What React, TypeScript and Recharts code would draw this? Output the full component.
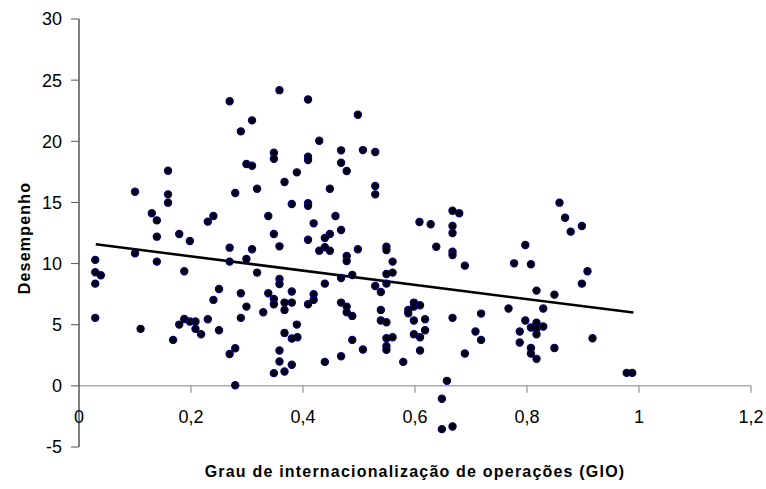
import React from 'react';
import { ScatterChart, Scatter, XAxis, YAxis, ReferenceLine } from 'recharts';

// GIO (x) values and Desempenho (y) values, paired by index
const gioValues = [
  0.159, 0.100, 0.159, 0.159, 0.130, 0.139, 0.240, 0.230, 0.139, 0.179, 0.198, 0.100, 0.029, 0.139, 0.029, 0.039, 0.029, 0.188, 0.250, 0.240, 0.029, 0.110, 0.188, 0.179, 0.198, 0.208, 0.208, 0.218, 0.230, 0.250, 0.168,
  0.358, 0.269, 0.409, 0.498, 0.309, 0.289, 0.429, 0.348, 0.348, 0.409, 0.409, 0.468, 0.507, 0.299, 0.309, 0.468, 0.478, 0.389, 0.367, 0.318, 0.448, 0.279, 0.380, 0.409, 0.409, 0.338, 0.458, 0.419, 0.468, 0.348, 0.448, 0.439, 0.409, 0.358, 0.439, 0.429, 0.448, 0.498, 0.269, 0.309, 0.478, 0.478, 0.299, 0.269,
  0.318, 0.358, 0.358, 0.439, 0.468, 0.488, 0.289, 0.338, 0.348, 0.348, 0.380, 0.367, 0.380, 0.367, 0.419, 0.419, 0.409, 0.468, 0.478, 0.478, 0.488, 0.299, 0.329, 0.289, 0.389, 0.367, 0.380, 0.390, 0.488, 0.279, 0.269, 0.358, 0.358, 0.380, 0.348, 0.367, 0.439, 0.468, 0.507, 0.279,
  0.529, 0.529, 0.529, 0.667, 0.679, 0.608, 0.628, 0.667, 0.667, 0.549, 0.549, 0.638, 0.667, 0.667, 0.560,
  0.689, 0.549, 0.560, 0.549, 0.529, 0.539, 0.539, 0.539, 0.549, 0.549, 0.560, 0.549, 0.549, 0.579, 0.598, 0.598, 0.588, 0.588, 0.609, 0.598, 0.618, 0.618, 0.598, 0.609, 0.609, 0.667, 0.718, 0.708, 0.718, 0.689, 0.657, 0.648, 0.648, 0.667,
  0.858, 0.868, 0.898, 0.878, 0.797, 0.777, 0.807, 0.908, 0.898, 0.817, 0.849, 0.767, 0.829, 0.797, 0.817, 0.807, 0.817, 0.829, 0.787, 0.817, 0.787, 0.807, 0.807, 0.817, 0.849, 0.917, 0.978, 0.988,
];

const desempenhoValues = [
  17.59, 15.87, 15.66, 14.98, 14.11, 13.53, 13.89, 13.43, 12.20, 12.42, 11.85, 10.84, 10.30, 10.16, 9.29, 9.04, 8.36, 9.37, 7.92, 7.03, 5.56, 4.66, 5.47, 5.01, 5.26, 5.26, 4.66, 4.22, 5.45, 4.55, 3.76,
  24.18, 23.28, 23.42, 22.17, 21.71, 20.81, 20.04, 19.06, 18.57, 18.73, 18.46, 19.26, 19.28, 18.14, 18.00, 18.24, 17.57, 17.46, 16.67, 16.12, 16.12, 15.77, 14.87, 14.93, 14.73, 13.89, 13.89, 13.29, 12.75, 12.42, 12.42, 12.09, 11.95, 11.41, 11.33, 11.05, 11.05, 11.17, 11.30, 11.17, 10.62, 10.21, 10.38, 10.16,
  9.26, 8.74, 8.33, 8.36, 8.82, 9.07, 7.57, 7.57, 7.11, 6.67, 7.71, 6.81, 6.81, 6.21, 7.49, 7.03, 6.67, 6.81, 6.48, 6.02, 5.72, 6.48, 6.02, 5.56, 5.01, 4.33, 3.87, 3.98, 3.76, 3.08, 2.61, 2.89, 1.99, 1.72, 1.04, 1.17, 1.96, 2.42, 2.97, 0.05,
  19.12, 16.34, 15.66, 14.32, 14.11, 13.40, 13.21, 13.07, 12.50, 11.38, 11.10, 11.38, 10.97, 10.70, 10.16,
  9.83, 9.15, 9.26, 8.36, 8.17, 7.68, 6.21, 5.34, 5.20, 3.89, 3.98, 3.25, 2.95, 1.96, 6.81, 6.48, 6.21, 5.94, 6.59, 5.34, 5.45, 4.55, 4.22, 3.98, 2.89, 5.56, 5.91, 4.44, 3.76, 2.64, 0.41, -1.06, -3.54, -3.32,
  14.98, 13.75, 13.07, 12.61, 11.52, 10.02, 9.94, 9.37, 8.36, 7.79, 7.46, 6.32, 6.32, 5.34, 5.17, 4.77, 4.68, 4.85, 4.44, 4.22, 3.54, 3.10, 2.64, 2.21, 3.10, 3.89, 1.06, 1.06,
];

// Linear trendline endpoints
const trendX = [0.03, 0.99];
const trendY = [11.58, 5.99];

const xTicks = [0, 0.2, 0.4, 0.6, 0.8, 1, 1.2];
const yTicks = [-5, 0, 5, 10, 15, 20, 25, 30];
const xDomain: [number, number] = [0, 1.2];
const yDomain: [number, number] = [-5, 30];

const xTitle = 'Grau de internacionalização de operações (GIO)';
const yTitle = 'Desempenho';

const points = gioValues.map((x, i) => ({ x, y: desempenhoValues[i] }));

const FONT = "Arial, 'Liberation Sans', sans-serif";
const W = 766;
const H = 489;
const X_AXIS_H = 1;
const MARGIN = { top: 19, right: 15, bottom: 42 - X_AXIS_H, left: 19 };
const PLOT_H = H - MARGIN.top - MARGIN.bottom - X_AXIS_H;
const ZERO_OFFSET = (PLOT_H * (0 - yDomain[0])) / (yDomain[1] - yDomain[0]);

const fmt = (v: number) => String(v).replace('.', ',');

const XTick = (props: any) => {
  const { x, y, payload } = props;
  const zy = y - ZERO_OFFSET;
  return (
    <g>
      <line x1={x} y1={zy} x2={x} y2={zy + 7} stroke="#808080" strokeWidth={1} />
      <text x={x} y={zy + 37} textAnchor="middle" fontSize={18} fontFamily={FONT} fill="#000">
        {fmt(payload.value)}
      </text>
    </g>
  );
};

const Dot = (props: any) => (
  <circle cx={props.cx} cy={props.cy} r={3.6} fill="#000" stroke="#000080" strokeWidth={1.2} />
);

const XTitle = (props: any) => {
  const vb = props.viewBox;
  return (
    <text
      x={vb.x + vb.width / 2}
      y={vb.y + 30}
      textAnchor="middle"
      fontSize={16}
      fontWeight="bold"
      letterSpacing={1.2}
      fontFamily={FONT}
      fill="#000"
    >
      {xTitle}
    </text>
  );
};

const YTitle = () => {
  const cx = 30;
  const cy = 238;
  return (
    <text
      x={cx}
      y={cy}
      transform={`rotate(-90, ${cx}, ${cy})`}
      textAnchor="middle"
      fontSize={16}
      fontWeight="bold"
      letterSpacing={1.2}
      fontFamily={FONT}
      fill="#000"
    >
      {yTitle}
    </text>
  );
};

export default function App() {
  return (
    <div style={{ position: 'absolute', left: 0, top: 0, width: W, height: H, background: '#fff' }}>
      <ScatterChart width={W} height={H} margin={MARGIN}>
        <XAxis
          type="number"
          dataKey="x"
          domain={xDomain}
          ticks={xTicks}
          height={X_AXIS_H}
          axisLine={false}
          tickLine={false}
          tickSize={0}
          tickMargin={0}
          tick={<XTick />}
          interval={0}
          allowDataOverflow
          label={<XTitle />}
        />
        <YAxis
          type="number"
          dataKey="y"
          domain={yDomain}
          ticks={yTicks}
          width={60}
          interval={0}
          allowDataOverflow
          axisLine={{ stroke: '#000', strokeWidth: 1 }}
          tickLine={{ stroke: '#555', strokeWidth: 1 }}
          tickSize={8}
          tickMargin={9}
          tick={{ fontSize: 18, fill: '#000', fontFamily: FONT }}
          label={<YTitle />}
        />
        <ReferenceLine y={0} stroke="#808080" strokeWidth={1} />
        <Scatter data={points} shape={<Dot />} isAnimationActive={false} />
        <ReferenceLine
          segment={[
            { x: trendX[0], y: trendY[0] },
            { x: trendX[1], y: trendY[1] },
          ]}
          stroke="#000"
          strokeWidth={2.5}
          ifOverflow="visible"
        />
      </ScatterChart>
    </div>
  );
}
